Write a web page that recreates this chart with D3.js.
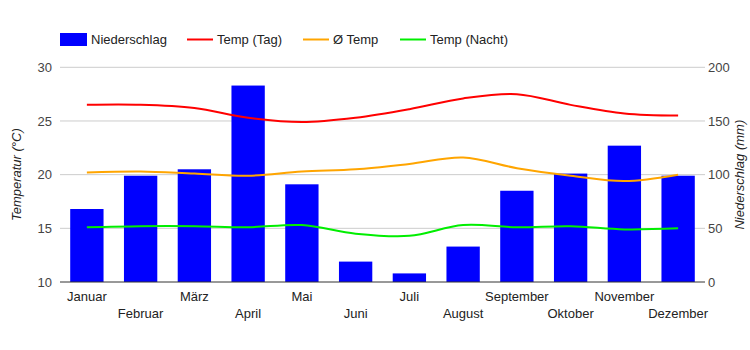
<!DOCTYPE html>
<html>
<head>
<meta charset="utf-8">
<script src="https://cdn.jsdelivr.net/npm/d3@7"></script>
<style>
  body { margin: 0; background: #fff; }
  svg { font-family: "Liberation Sans", Arial, sans-serif; }
</style>
</head>
<body>
<svg id="chart"></svg>
<script>
// data
var months = ["Januar", "Februar", "März", "April", "Mai", "Juni", "Juli", "August", "September", "Oktober", "November", "Dezember"];
var niederschlag = [68, 99, 105, 183, 91, 19, 8, 33, 85, 101, 127, 99];
var tempTag = [26.5, 26.5, 26.2, 25.3, 24.9, 25.3, 26.1, 27.1, 27.5, 26.5, 25.7, 25.5];
var tempMittel = [20.2, 20.3, 20.1, 19.9, 20.3, 20.5, 21.0, 21.6, 20.6, 19.9, 19.4, 20.0];
var tempNacht = [15.1, 15.2, 15.2, 15.1, 15.3, 14.5, 14.3, 15.3, 15.1, 15.2, 14.9, 15.0];
var tempTicks = [10, 15, 20, 25, 30];
var rainTicks = [0, 50, 100, 150, 200];

var config = {
    width: 750,
    height: 350,
    left: 60,
    right: 705,
    top: 67.3,
    bottom: 282
};

var svg = d3.select("#chart")
    .attr("width", config.width)
    .attr("height", config.height);

var xscale = d3.scaleBand()
    .domain(months)
    .range([config.left, config.right])
    .paddingInner(0.38)
    .paddingOuter(0.19);

var ytemp = d3.scaleLinear().domain([10, 30]).range([config.bottom, config.top]);
var yrain = d3.scaleLinear().domain([0, 200]).range([config.bottom, config.top]);

// gridlines
svg.append("g")
    .selectAll("line")
    .data(tempTicks.slice(1))
    .enter()
    .append("line")
    .attr("x1", config.left)
    .attr("x2", config.right)
    .attr("y1", d => ytemp(d))
    .attr("y2", d => ytemp(d))
    .attr("stroke", "#cccccc")
    .attr("stroke-width", 1);

// left axis
var yaxisL = d3.axisLeft(ytemp).tickValues(tempTicks).tickSize(0).tickPadding(8);
var gL = svg.append("g")
    .attr("transform", `translate(${config.left}, 0)`)
    .call(yaxisL);
gL.select(".domain").remove();
gL.selectAll("text").attr("font-size", "13px").attr("fill", "#444").attr("font-family", null);

// right axis
var yaxisR = d3.axisRight(yrain).tickValues(rainTicks).tickSize(0).tickPadding(3);
var gR = svg.append("g")
    .attr("transform", `translate(${config.right}, 0)`)
    .call(yaxisR);
gR.select(".domain").remove();
gR.selectAll("text").attr("font-size", "13px").attr("fill", "#444").attr("font-family", null);

// bars
svg.append("g")
    .selectAll("rect")
    .data(niederschlag)
    .enter()
    .append("rect")
    .attr("x", (d, i) => xscale(months[i]))
    .attr("y", d => yrain(d))
    .attr("width", xscale.bandwidth())
    .attr("height", d => config.bottom - yrain(d))
    .attr("fill", "#0000ff");

// baseline
svg.append("line")
    .attr("x1", config.left)
    .attr("x2", config.right)
    .attr("y1", config.bottom)
    .attr("y2", config.bottom)
    .attr("stroke", "#333")
    .attr("stroke-width", 1);

// lines
var cx = i => xscale(months[i]) + xscale.bandwidth() / 2;
var line = d3.line()
    .x((d, i) => cx(i))
    .y(d => ytemp(d))
    .curve(d3.curveCatmullRom.alpha(0.5));

var series = [
    { name: "Temp (Tag)", values: tempTag, color: "#ff0000" },
    { name: "Ø Temp", values: tempMittel, color: "#ffa500" },
    { name: "Temp (Nacht)", values: tempNacht, color: "#00ee00" }
];

series.forEach(s => {
    svg.append("path")
        .datum(s.values)
        .attr("d", line)
        .attr("fill", "none")
        .attr("stroke", s.color)
        .attr("stroke-width", 2);
});

// x labels, alternating rows
var xaxis = svg.append("g");
xaxis.selectAll("text")
    .data(months)
    .enter()
    .append("text")
    .attr("x", (d, i) => cx(i))
    .attr("y", (d, i) => i % 2 == 0 ? 301 : 318)
    .attr("text-anchor", "middle")
    .attr("font-size", "13px")
    .attr("fill", "#222")
    .text(d => d);

// axis titles
svg.append("text")
    .attr("transform", `translate(21, ${(config.top + config.bottom) / 2}) rotate(-90)`)
    .attr("text-anchor", "middle")
    .attr("font-size", "13px")
    .attr("font-style", "italic")
    .attr("fill", "#222")
    .text("Temperatur (°C)");

svg.append("text")
    .attr("transform", `translate(744, ${(config.top + config.bottom) / 2}) rotate(-90)`)
    .attr("text-anchor", "middle")
    .attr("font-size", "13px")
    .attr("font-style", "italic")
    .attr("fill", "#222")
    .text("Niederschlag (mm)");

// legend
var legend = svg.append("g");
legend.append("rect")
    .attr("x", 60).attr("y", 33)
    .attr("width", 27).attr("height", 13)
    .attr("fill", "#0000ff");
legend.append("text")
    .attr("x", 91).attr("y", 44)
    .attr("font-size", "13px").attr("fill", "#222")
    .text("Niederschlag");

var legendX = [187, 303, 400];
series.forEach((s, i) => {
    legend.append("line")
        .attr("x1", legendX[i]).attr("x2", legendX[i] + 26)
        .attr("y1", 39.5).attr("y2", 39.5)
        .attr("stroke", s.color).attr("stroke-width", 2);
    legend.append("text")
        .attr("x", legendX[i] + 30).attr("y", 44)
        .attr("font-size", "13px").attr("fill", "#222")
        .text(s.name);
});
</script>
</body>
</html>
